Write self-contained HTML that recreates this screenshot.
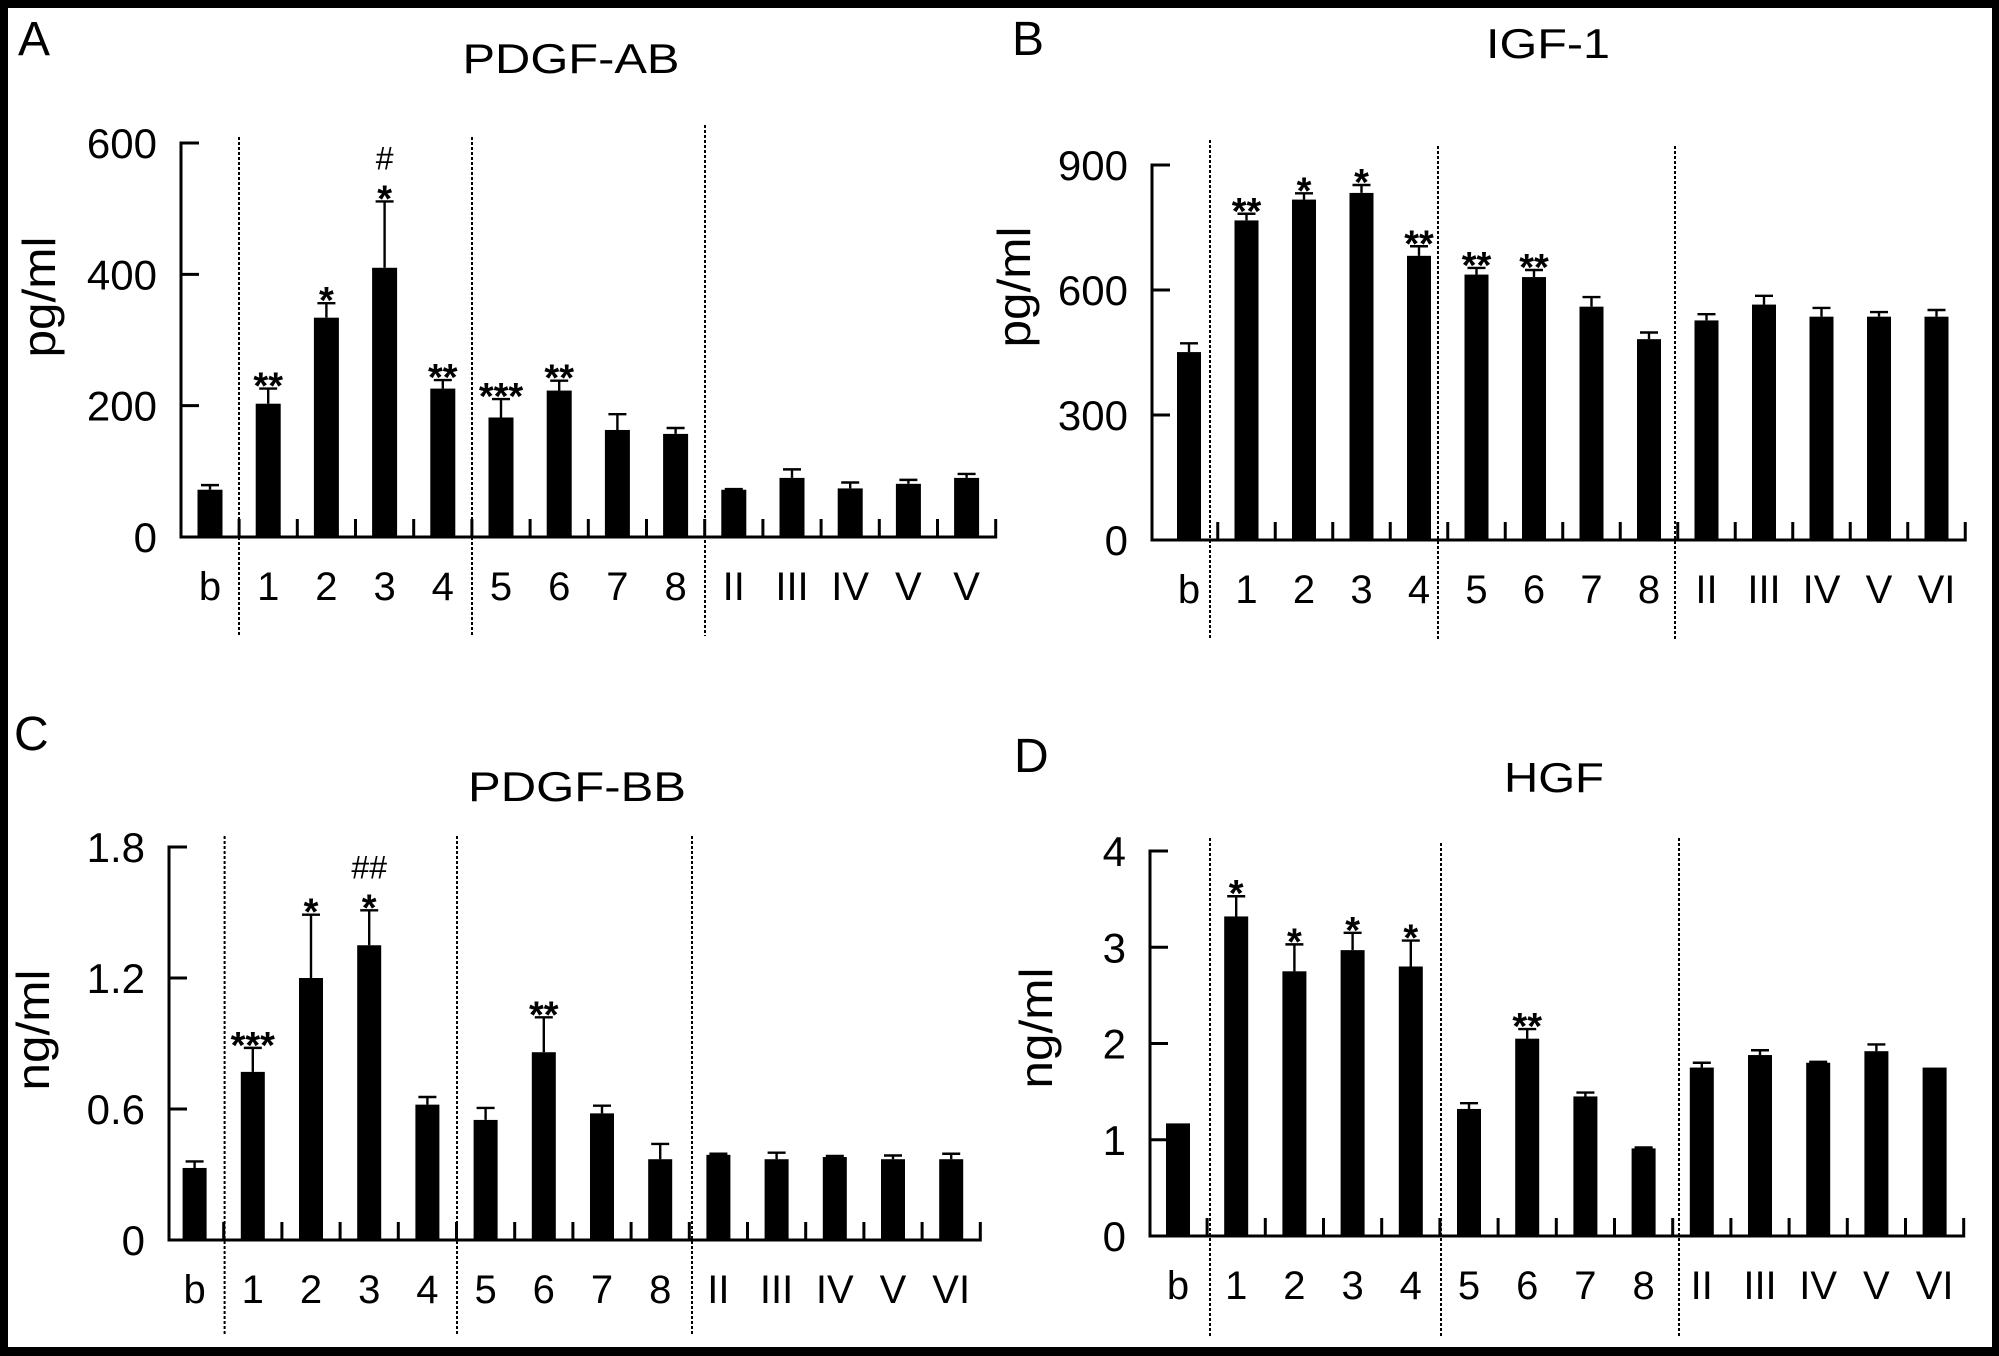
<!DOCTYPE html>
<html><head><meta charset="utf-8">
<style>
html,body{margin:0;padding:0;background:#000;}
svg{display:block;}
text{font-family:"Liberation Sans",Arial,sans-serif;fill:#000;}
</style></head>
<body>
<svg id="fig" width="1999" height="1356" viewBox="0 0 1999 1356" xmlns="http://www.w3.org/2000/svg">
<rect x="8" y="8" width="1984" height="1339" fill="#fff"/>
</svg>
<script>
// ---- Panel A: PDGF-AB (pg/ml) ----
const catsA = ["b","1","2","3","4","5","6","7","8","II","III","IV","V","V"];
const valsA = [72,203,334,410,226,182,223,163,157,72,90,74,81,90];
const errA  = [7,23,22,101,13,28,15,24,9,1,13,9,6,6];
const starsA = ["","**","*","*","**","***","**","","","","","","",""];
const hashA  = ["","","","#","","","","","","","","","",""];
const ticksA = [0,200,400,600];
// ---- Panel B: IGF-1 (pg/ml) ----
const catsB = ["b","1","2","3","4","5","6","7","8","II","III","IV","V","VI"];
const valsB = [451,767,817,833,682,637,631,560,482,527,565,536,536,536];
const errB  = [21,16,15,19,23,16,17,23,16,15,21,21,11,16];
const starsB = ["","**","*","*","**","**","**","","","","","","",""];
const hashB  = ["","","","","","","","","","","","","",""];
const ticksB = [0,300,600,900];
// ---- Panel C: PDGF-BB (ng/ml) ----
const catsC = ["b","1","2","3","4","5","6","7","8","II","III","IV","V","VI"];
const valsC = [0.33,0.77,1.20,1.35,0.62,0.55,0.86,0.58,0.37,0.39,0.37,0.38,0.37,0.37];
const errC  = [0.03,0.11,0.29,0.16,0.035,0.055,0.16,0.035,0.07,0.005,0.03,0.005,0.017,0.025];
const starsC = ["","***","*","*","","","**","","","","","","",""];
const hashC  = ["","","","##","","","","","","","","","",""];
const ticksC = ["0","0.6","1.2","1.8"];
// ---- Panel D: HGF (ng/ml) ----
const catsD = ["b","1","2","3","4","5","6","7","8","II","III","IV","V","VI"];
const valsD = [1.17,3.32,2.75,2.97,2.80,1.32,2.05,1.45,0.91,1.75,1.88,1.80,1.92,1.75];
const errD  = [0,0.21,0.28,0.18,0.27,0.06,0.10,0.04,0.01,0.05,0.05,0.01,0.07,0];
const starsD = ["","*","*","*","*","","**","","","","","","",""];
const hashD  = ["","","","","","","","","","","","","",""];
const ticksD = [0,1,2,3,4];

const NS = "http://www.w3.org/2000/svg";
const svg = document.getElementById("fig");
function mk(tag, attrs, parent){
  const e = document.createElementNS(NS, tag);
  for (const k in attrs) e.setAttribute(k, attrs[k]);
  (parent||svg).appendChild(e);
  return e;
}

function drawPanel(cfg, cats, vals, errs, stars, hashes, ticks){
  const g = mk("g", {});
  
  
  const yMax = Number(ticks[ticks.length-1]);
  const yScale = v => cfg.y0 - (v / yMax) * (cfg.y0 - cfg.yTop);
  const xScale = i => cfg.xb + i * cfg.step;

  const L = mk("text", {x: cfg.letterX, y: cfg.letterY, "font-size": 48}, g);
  L.textContent = cfg.letter;
  
  
  const T = mk("text", {x: cfg.titleX, y: cfg.titleY, "font-size": 42, "text-anchor": "middle", textLength: cfg.titleLen, lengthAdjust: "spacingAndGlyphs"}, g);
  T.textContent = cfg.title;
  
  
  const Y = mk("text", {x: 0, y: 0, "font-size": 46, "text-anchor": "middle", textLength: 121, lengthAdjust: "spacingAndGlyphs", transform: `translate(${cfg.ylabX},${cfg.ylabY}) rotate(-90)`}, g);
  Y.textContent = cfg.ylab;
  
  

  cfg.dividers.forEach((d, k) => {
    const dl = mk("line", {x1: d, x2: d, y1: cfg.divTop[k], y2: cfg.divBot, stroke: "#000", "stroke-width": 2, "stroke-dasharray": "3,2"}, g);
    
    
  });

  cats.forEach((c, i) => {
    const cx = xScale(i);
    const yv = yScale(vals[i]);
    const bar = mk("rect", {x: cx - cfg.bw/2, y: yv, width: cfg.bw, height: cfg.y0 - yv, fill: "#000"}, g);
    
    
    let topY = yv;
    if (errs[i] > 0){
      const ye = yScale(vals[i] + errs[i]);
      topY = ye;
      const el = mk("path", {d: `M${cx},${yv} V${ye} M${cx-9},${ye} H${cx+9}`, stroke: "#000", "stroke-width": 2.4, fill: "none"}, g);
      
      
    }
    let ay = topY - 14;
    if (stars[i]){
      const s = mk("text", {x: cx, y: ay + 24, "font-size": 38, "font-weight": "bold", "text-anchor": "middle"}, g);
      s.textContent = stars[i];
      
      
      ay -= 32;
    }
    if (hashes[i]){
      const h = mk("text", {x: cx, y: ay + 14, "font-size": 32, "text-anchor": "middle"}, g);
      h.textContent = hashes[i];
      
      
    }
    const lb = mk("text", {x: cx, y: cfg.y0 + 63, "font-size": 40, "text-anchor": "middle"}, g);
    lb.textContent = c;
    
    
  });

  const xEnd = xScale(cats.length - 1) + cfg.step/2;
  let d = `M${cfg.ax + 18},${cfg.yTop} H${cfg.ax} V${cfg.y0} H${xEnd} V${cfg.y0 - 18}`;
  for (let i = 0; i < cats.length - 1; i++){
    const tx = xScale(i) + cfg.step/2;
    d += ` M${tx},${cfg.y0} V${cfg.y0 - 18}`;
  }
  const axis = mk("path", {d: d, stroke: "#000", "stroke-width": 3, fill: "none"}, g);
  
  

  ticks.forEach(t => {
    const ty = yScale(Number(t));
    if (Number(t) > 0 && Number(t) < yMax){
      const tk = mk("line", {x1: cfg.ax, x2: cfg.ax + 18, y1: ty, y2: ty, stroke: "#000", "stroke-width": 3}, g);
      
      
    }
    const tl = mk("text", {x: cfg.ax - 24, y: ty + 15, "font-size": 42, "text-anchor": "end"}, g);
    tl.textContent = String(t);
    
    
  });
}

drawPanel({id:"a", letter:"A", letterX:18, letterY:55, title:"PDGF-AB", titleX:571, titleY:73, titleLen:217,
  ylab:"pg/ml", ylabX:55, ylabY:297, ax:181, y0:537, yTop:143, xb:210, step:58.2, bw:25,
  dividers:[239,472,705], divTop:[137,137,125], divBot:636},
  catsA, valsA, errA, starsA, hashA, ticksA);

drawPanel({id:"b", letter:"B", letterX:1012, letterY:55, title:"IGF-1", titleX:1548, titleY:58, titleLen:124,
  ylab:"pg/ml", ylabX:1030, ylabY:287, ax:1152, y0:540, yTop:165, xb:1189, step:57.5, bw:24,
  dividers:[1210,1438,1675], divTop:[140,146,146], divBot:640},
  catsB, valsB, errB, starsB, hashB, ticksB);

drawPanel({id:"c", letter:"C", letterX:14, letterY:750, title:"PDGF-BB", titleX:577, titleY:801, titleLen:218,
  ylab:"ng/ml", ylabX:49, ylabY:1030, ax:169, y0:1240, yTop:847, xb:194.6, step:58.2, bw:24,
  dividers:[224.6,457,692], divTop:[836,836,836], divBot:1335},
  catsC, valsC, errC, starsC, hashC, ticksC);

drawPanel({id:"d", letter:"D", letterX:1014, letterY:772, title:"HGF", titleX:1554, titleY:792, titleLen:100,
  ylab:"ng/ml", ylabX:1052, ylabY:1028, ax:1150, y0:1236, yTop:851, xb:1178, step:58.2, bw:24,
  dividers:[1210,1441,1679], divTop:[838,843,838], divBot:1337},
  catsD, valsD, errD, starsD, hashD, ticksD);
</script>
</body></html>
